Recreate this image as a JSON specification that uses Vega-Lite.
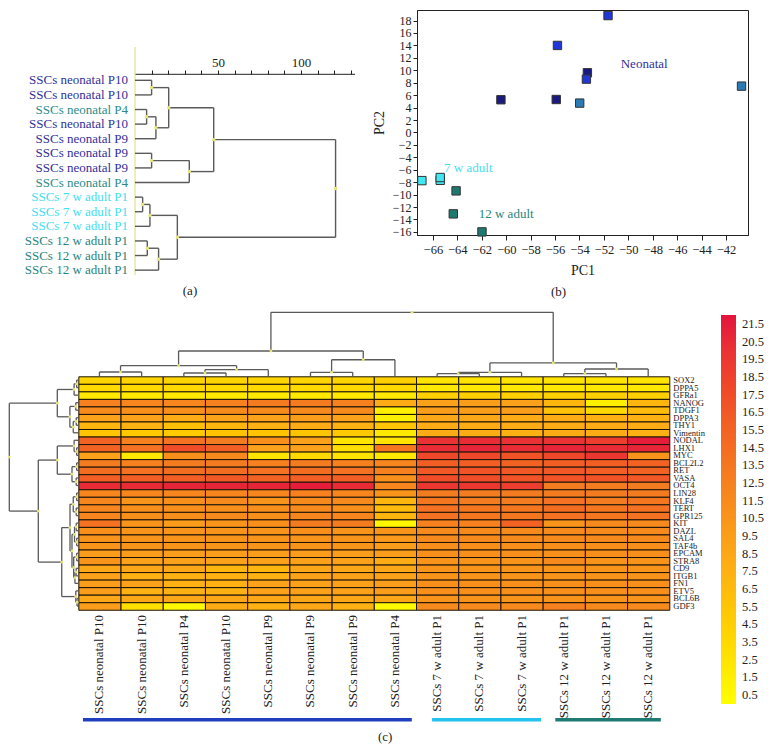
{
"$schema": "https://vega.github.io/schema/vega-lite/v6.json",
"padding": {"left": 5, "top": 8, "right": 2, "bottom": 2},
"bounds": "full",
"spacing": 9,
"config": {
  "font": "Liberation Serif",
  "view": {"stroke": null},
  "title": {"font": "Liberation Serif", "fontWeight": "normal", "fontSize": 13, "color": "#222"},
  "axis": {"labelFont": "Liberation Serif", "titleFont": "Liberation Serif", "titleFontWeight": "normal", "labelColor": "#222", "titleColor": "#222", "domainColor": "#222", "tickColor": "#222", "grid": false, "labelOverlap": false, "labelBound": false},
  "legend": {"labelFont": "Liberation Serif"}
},
"datasets": {
  "aleaves": [
    {"i": 1, "name": "SSCs neonatal P10", "grp": "neo"},
    {"i": 2, "name": "SSCs neonatal P10", "grp": "neo"},
    {"i": 3, "name": "SSCs neonatal P4", "grp": "P4"},
    {"i": 4, "name": "SSCs neonatal P10", "grp": "neo"},
    {"i": 5, "name": "SSCs neonatal P9", "grp": "neo"},
    {"i": 6, "name": "SSCs neonatal P9", "grp": "neo"},
    {"i": 7, "name": "SSCs neonatal P9", "grp": "neo"},
    {"i": 8, "name": "SSCs neonatal P4", "grp": "P4"},
    {"i": 9, "name": "SSCs 7 w adult P1", "grp": "7w"},
    {"i": 10, "name": "SSCs 7 w adult P1", "grp": "7w"},
    {"i": 11, "name": "SSCs 7 w adult P1", "grp": "7w"},
    {"i": 12, "name": "SSCs 12 w adult P1", "grp": "12w"},
    {"i": 13, "name": "SSCs 12 w adult P1", "grp": "12w"},
    {"i": 14, "name": "SSCs 12 w adult P1", "grp": "12w"}
  ],
  "adend": [
    {"h": 10, "a": 1, "b": 2, "ha": 0, "hb": 0, "m": 1.5},
    {"h": 7, "a": 3, "b": 4, "ha": 0, "hb": 0, "m": 3.5},
    {"h": 12.6, "a": 3.5, "b": 5, "ha": 7, "hb": 0, "m": 4.25},
    {"h": 20.3, "a": 1.5, "b": 4.25, "ha": 10, "hb": 12.6, "m": 2.875},
    {"h": 10, "a": 6, "b": 7, "ha": 0, "hb": 0, "m": 6.5},
    {"h": 32.7, "a": 6.5, "b": 8, "ha": 10, "hb": 0, "m": 7.25},
    {"h": 47.4, "a": 2.875, "b": 7.25, "ha": 20.3, "hb": 32.7, "m": 5.0625},
    {"h": 4.6, "a": 9, "b": 10, "ha": 0, "hb": 0, "m": 9.5},
    {"h": 9, "a": 9.5, "b": 11, "ha": 4.6, "hb": 0, "m": 10.25},
    {"h": 7.4, "a": 12, "b": 13, "ha": 0, "hb": 0, "m": 12.5},
    {"h": 14.2, "a": 12.5, "b": 14, "ha": 7.4, "hb": 0, "m": 13.25},
    {"h": 25.5, "a": 10.25, "b": 13.25, "ha": 9, "hb": 14.2, "m": 11.75},
    {"h": 120.8, "a": 5.0625, "b": 11.75, "ha": 47.4, "hb": 25.5, "m": 8.406}
  ],
  "pca": [
    {"pc1": -51.66, "pc2": 18.8, "grp": "P9"},
    {"pc1": -55.8, "pc2": 14.0, "grp": "P9"},
    {"pc1": -53.35, "pc2": 9.6, "grp": "P10"},
    {"pc1": -53.43, "pc2": 8.58, "grp": "P9"},
    {"pc1": -40.73, "pc2": 7.45, "grp": "P4"},
    {"pc1": -60.43, "pc2": 5.26, "grp": "P10"},
    {"pc1": -55.9, "pc2": 5.3, "grp": "P10"},
    {"pc1": -53.98, "pc2": 4.72, "grp": "P4"},
    {"pc1": -66.9, "pc2": -7.75, "grp": "7w"},
    {"pc1": -65.4, "pc2": -7.7, "grp": "7w"},
    {"pc1": -65.4, "pc2": -7.25, "grp": "7w"},
    {"pc1": -64.1, "pc2": -9.4, "grp": "12w"},
    {"pc1": -64.33, "pc2": -13.1, "grp": "12w"},
    {"pc1": -61.98, "pc2": -16.0, "grp": "12w"}
  ],
  "pcalab": [
    {"pc1": -48.7, "pc2": 11.0, "t": "Neonatal", "grp": "Neonatal"},
    {"pc1": -63.1, "pc2": -5.66, "t": "7 w adult", "grp": "7w"},
    {"pc1": -60.0, "pc2": -13.05, "t": "12 w adult", "grp": "12w"}
  ],
  "genes": [
    {"r": 0, "g": "SOX2"}, {"r": 1, "g": "DPPA5"}, {"r": 2, "g": "GFRa1"}, {"r": 3, "g": "NANOG"},
    {"r": 4, "g": "TDGF1"}, {"r": 5, "g": "DPPA3"}, {"r": 6, "g": "THY1"}, {"r": 7, "g": "Vimentin"},
    {"r": 8, "g": "NODAL"}, {"r": 9, "g": "LHX1"}, {"r": 10, "g": "MYC"}, {"r": 11, "g": "BCL2L2"},
    {"r": 12, "g": "RET"}, {"r": 13, "g": "VASA"}, {"r": 14, "g": "OCT4"}, {"r": 15, "g": "LIN28"},
    {"r": 16, "g": "KLF4"}, {"r": 17, "g": "TERT"}, {"r": 18, "g": "GPR125"}, {"r": 19, "g": "KIT"},
    {"r": 20, "g": "DAZL"}, {"r": 21, "g": "SAL4"}, {"r": 22, "g": "TAF4b"}, {"r": 23, "g": "EPCAM"},
    {"r": 24, "g": "STRA8"}, {"r": 25, "g": "CD9"}, {"r": 26, "g": "ITGB1"}, {"r": 27, "g": "FN1"},
    {"r": 28, "g": "ETV5"}, {"r": 29, "g": "BCL6B"}, {"r": 30, "g": "GDF3"}
  ],
  "samples": [
    {"c": 0, "s": "SSCs neonatal P10"}, {"c": 1, "s": "SSCs neonatal P10"}, {"c": 2, "s": "SSCs neonatal P4"},
    {"c": 3, "s": "SSCs neonatal P10"}, {"c": 4, "s": "SSCs neonatal P9"}, {"c": 5, "s": "SSCs neonatal P9"},
    {"c": 6, "s": "SSCs neonatal P9"}, {"c": 7, "s": "SSCs neonatal P4"}, {"c": 8, "s": "SSCs 7 w adult P1"},
    {"c": 9, "s": "SSCs 7 w adult P1"}, {"c": 10, "s": "SSCs 7 w adult P1"}, {"c": 11, "s": "SSCs 12 w adult P1"},
    {"c": 12, "s": "SSCs 12 w adult P1"}, {"c": 13, "s": "SSCs 12 w adult P1"}
  ],
  "groups": [
    {"g": "neo", "x0": 0.11, "x1": 7.9},
    {"g": "7w", "x0": 8.38, "x1": 10.96},
    {"g": "12w", "x0": 11.3, "x1": 13.8}
  ],
  "rdend": [
    {"h": -0.04, "a": 0.5, "b": 1.5, "ha": 0, "hb": 0, "m": 1.0},
    {"h": -0.10, "a": 1.0, "b": 2.5, "ha": -0.04, "hb": 0, "m": 1.75},
    {"h": -0.06, "a": 3.5, "b": 4.5, "ha": 0, "hb": 0, "m": 4.0},
    {"h": -0.05, "a": 5.5, "b": 6.5, "ha": 0, "hb": 0, "m": 6.0},
    {"h": -0.12, "a": 6.0, "b": 7.5, "ha": -0.05, "hb": 0, "m": 6.75},
    {"h": -0.20, "a": 4.0, "b": 6.75, "ha": -0.06, "hb": -0.12, "m": 5.375},
    {"h": -0.498, "a": 1.75, "b": 5.375, "ha": -0.10, "hb": -0.20, "m": 3.5625},
    {"h": -0.04, "a": 9.5, "b": 10.5, "ha": 0, "hb": 0, "m": 10.0},
    {"h": -0.10, "a": 8.5, "b": 10.0, "ha": 0, "hb": -0.04, "m": 9.25},
    {"h": -0.04, "a": 11.5, "b": 12.5, "ha": 0, "hb": 0, "m": 12.0},
    {"h": -0.05, "a": 13.5, "b": 14.5, "ha": 0, "hb": 0, "m": 14.0},
    {"h": -0.15, "a": 12.0, "b": 14.0, "ha": -0.04, "hb": -0.05, "m": 13.0},
    {"h": -0.498, "a": 9.25, "b": 13.0, "ha": -0.10, "hb": -0.15, "m": 11.125},
    {"h": -0.04, "a": 15.5, "b": 16.5, "ha": 0, "hb": 0, "m": 16.0},
    {"h": -0.05, "a": 17.5, "b": 18.5, "ha": 0, "hb": 0, "m": 18.0},
    {"h": -0.12, "a": 16.0, "b": 18.0, "ha": -0.04, "hb": -0.05, "m": 17.0},
    {"h": -0.05, "a": 19.5, "b": 20.5, "ha": 0, "hb": 0, "m": 20.0},
    {"h": -0.04, "a": 21.5, "b": 22.5, "ha": 0, "hb": 0, "m": 22.0},
    {"h": -0.09, "a": 20.0, "b": 22.0, "ha": -0.05, "hb": -0.04, "m": 21.0},
    {"h": -0.04, "a": 23.5, "b": 24.5, "ha": 0, "hb": 0, "m": 24.0},
    {"h": -0.05, "a": 25.5, "b": 26.5, "ha": 0, "hb": 0, "m": 26.0},
    {"h": -0.08, "a": 26.0, "b": 27.5, "ha": -0.05, "hb": 0, "m": 26.75},
    {"h": -0.11, "a": 24.0, "b": 26.75, "ha": -0.04, "hb": -0.08, "m": 25.375},
    {"h": -0.15, "a": 21.0, "b": 25.375, "ha": -0.09, "hb": -0.11, "m": 23.19},
    {"h": -0.197, "a": 17.0, "b": 23.19, "ha": -0.12, "hb": -0.15, "m": 20.094},
    {"h": -0.03, "a": 29.5, "b": 30.5, "ha": 0, "hb": 0, "m": 30.0},
    {"h": -0.06, "a": 28.5, "b": 30.0, "ha": 0, "hb": -0.03, "m": 29.25},
    {"h": -0.393, "a": 20.094, "b": 29.25, "ha": -0.197, "hb": -0.06, "m": 24.672},
    {"h": -0.948, "a": 11.125, "b": 24.672, "ha": -0.498, "hb": -0.393, "m": 17.898},
    {"h": -1.635, "a": 3.5625, "b": 17.898, "ha": -0.498, "hb": -0.948, "m": 10.73}
  ],
  "cdend": [
    {"h": -0.57, "a": 0.5, "b": 1.5, "ha": 0, "hb": 0, "m": 1.0},
    {"h": -0.44, "a": 2.5, "b": 3.5, "ha": 0, "hb": 0, "m": 3.0},
    {"h": -0.88, "a": 3.0, "b": 4.5, "ha": -0.44, "hb": 0, "m": 3.75},
    {"h": -1.41, "a": 1.0, "b": 3.75, "ha": -0.57, "hb": -0.88, "m": 2.375},
    {"h": -0.53, "a": 5.5, "b": 6.5, "ha": 0, "hb": 0, "m": 6.0},
    {"h": -2.20, "a": 6.0, "b": 7.5, "ha": -0.53, "hb": 0, "m": 6.75},
    {"h": -3.36, "a": 2.375, "b": 6.75, "ha": -1.41, "hb": -2.20, "m": 4.5625},
    {"h": -0.35, "a": 8.5, "b": 9.5, "ha": 0, "hb": 0, "m": 9.0},
    {"h": -0.53, "a": 9.0, "b": 10.5, "ha": -0.35, "hb": 0, "m": 9.75},
    {"h": -0.35, "a": 11.5, "b": 12.5, "ha": 0, "hb": 0, "m": 12.0},
    {"h": -0.97, "a": 12.0, "b": 13.5, "ha": -0.35, "hb": 0, "m": 12.75},
    {"h": -1.77, "a": 9.75, "b": 12.75, "ha": -0.53, "hb": -0.97, "m": 11.25},
    {"h": -8.5, "a": 4.5625, "b": 11.25, "ha": -3.36, "hb": -1.77, "m": 7.906}
  ],
  "heat": [
{"r":0,"c":0,"v":4},{"r":0,"c":1,"v":4},{"r":0,"c":2,"v":4},{"r":0,"c":3,"v":4},{"r":0,"c":4,"v":4},{"r":0,"c":5,"v":4},{"r":0,"c":6,"v":4},{"r":0,"c":7,"v":4.5},{"r":0,"c":8,"v":2.5},{"r":0,"c":9,"v":2.5},{"r":0,"c":10,"v":2.5},{"r":0,"c":11,"v":2.5},{"r":0,"c":12,"v":2.5},{"r":0,"c":13,"v":2.5},
{"r":1,"c":0,"v":3.5},{"r":1,"c":1,"v":3.5},{"r":1,"c":2,"v":3.5},{"r":1,"c":3,"v":3.5},{"r":1,"c":4,"v":3.5},{"r":1,"c":5,"v":3.5},{"r":1,"c":6,"v":3.5},{"r":1,"c":7,"v":3.5},{"r":1,"c":8,"v":2},{"r":1,"c":9,"v":2},{"r":1,"c":10,"v":2},{"r":1,"c":11,"v":2},{"r":1,"c":12,"v":2},{"r":1,"c":13,"v":2},
{"r":2,"c":0,"v":2},{"r":2,"c":1,"v":2},{"r":2,"c":2,"v":2},{"r":2,"c":3,"v":2},{"r":2,"c":4,"v":2},{"r":2,"c":5,"v":2},{"r":2,"c":6,"v":2},{"r":2,"c":7,"v":2},{"r":2,"c":8,"v":4.5},{"r":2,"c":9,"v":4.5},{"r":2,"c":10,"v":4.5},{"r":2,"c":11,"v":4.5},{"r":2,"c":12,"v":4.5},{"r":2,"c":13,"v":4.5},
{"r":3,"c":0,"v":12.5},{"r":3,"c":1,"v":12},{"r":3,"c":2,"v":12},{"r":3,"c":3,"v":12.5},{"r":3,"c":4,"v":13},{"r":3,"c":5,"v":13},{"r":3,"c":6,"v":12.5},{"r":3,"c":7,"v":8},{"r":3,"c":8,"v":9},{"r":3,"c":9,"v":9.5},{"r":3,"c":10,"v":9},{"r":3,"c":11,"v":7},{"r":3,"c":12,"v":1.5},{"r":3,"c":13,"v":7},
{"r":4,"c":0,"v":11.5},{"r":4,"c":1,"v":11},{"r":4,"c":2,"v":11},{"r":4,"c":3,"v":11.5},{"r":4,"c":4,"v":11.5},{"r":4,"c":5,"v":11.5},{"r":4,"c":6,"v":11.5},{"r":4,"c":7,"v":1.5},{"r":4,"c":8,"v":9.5},{"r":4,"c":9,"v":9.5},{"r":4,"c":10,"v":9.5},{"r":4,"c":11,"v":6},{"r":4,"c":12,"v":3.5},{"r":4,"c":13,"v":6.5},
{"r":5,"c":0,"v":9},{"r":5,"c":1,"v":9},{"r":5,"c":2,"v":8},{"r":5,"c":3,"v":9},{"r":5,"c":4,"v":9},{"r":5,"c":5,"v":9.5},{"r":5,"c":6,"v":9},{"r":5,"c":7,"v":1.5},{"r":5,"c":8,"v":8.5},{"r":5,"c":9,"v":8.5},{"r":5,"c":10,"v":8},{"r":5,"c":11,"v":8},{"r":5,"c":12,"v":7.5},{"r":5,"c":13,"v":7.5},
{"r":6,"c":0,"v":7},{"r":6,"c":1,"v":7.5},{"r":6,"c":2,"v":6},{"r":6,"c":3,"v":7},{"r":6,"c":4,"v":7.5},{"r":6,"c":5,"v":8},{"r":6,"c":6,"v":7.5},{"r":6,"c":7,"v":5.5},{"r":6,"c":8,"v":8},{"r":6,"c":9,"v":8},{"r":6,"c":10,"v":8},{"r":6,"c":11,"v":8},{"r":6,"c":12,"v":8},{"r":6,"c":13,"v":8},
{"r":7,"c":0,"v":5.5},{"r":7,"c":1,"v":5},{"r":7,"c":2,"v":5},{"r":7,"c":3,"v":5.5},{"r":7,"c":4,"v":5.5},{"r":7,"c":5,"v":5.5},{"r":7,"c":6,"v":5},{"r":7,"c":7,"v":2},{"r":7,"c":8,"v":8},{"r":7,"c":9,"v":8},{"r":7,"c":10,"v":7.5},{"r":7,"c":11,"v":8},{"r":7,"c":12,"v":8},{"r":7,"c":13,"v":7.5},
{"r":8,"c":0,"v":15.5},{"r":8,"c":1,"v":12.5},{"r":8,"c":2,"v":14},{"r":8,"c":3,"v":13},{"r":8,"c":4,"v":11},{"r":8,"c":5,"v":9},{"r":8,"c":6,"v":2.5},{"r":8,"c":7,"v":2.5},{"r":8,"c":8,"v":20},{"r":8,"c":9,"v":20.5},{"r":8,"c":10,"v":20},{"r":8,"c":11,"v":20},{"r":8,"c":12,"v":19},{"r":8,"c":13,"v":21.5},
{"r":9,"c":0,"v":15.5},{"r":9,"c":1,"v":14},{"r":9,"c":2,"v":17.5},{"r":9,"c":3,"v":16},{"r":9,"c":4,"v":9},{"r":9,"c":5,"v":9},{"r":9,"c":6,"v":3},{"r":9,"c":7,"v":13.5},{"r":9,"c":8,"v":20.5},{"r":9,"c":9,"v":21},{"r":9,"c":10,"v":20.5},{"r":9,"c":11,"v":21},{"r":9,"c":12,"v":20.5},{"r":9,"c":13,"v":21},
{"r":10,"c":0,"v":9},{"r":10,"c":1,"v":2},{"r":10,"c":2,"v":11},{"r":10,"c":3,"v":11.5},{"r":10,"c":4,"v":2.5},{"r":10,"c":5,"v":3.5},{"r":10,"c":6,"v":2.5},{"r":10,"c":7,"v":2},{"r":10,"c":8,"v":18},{"r":10,"c":9,"v":18},{"r":10,"c":10,"v":17},{"r":10,"c":11,"v":18},{"r":10,"c":12,"v":19.5},{"r":10,"c":13,"v":10.5},
{"r":11,"c":0,"v":13},{"r":11,"c":1,"v":12.5},{"r":11,"c":2,"v":13},{"r":11,"c":3,"v":13},{"r":11,"c":4,"v":12.5},{"r":11,"c":5,"v":13},{"r":11,"c":6,"v":12.5},{"r":11,"c":7,"v":12},{"r":11,"c":8,"v":16},{"r":11,"c":9,"v":16},{"r":11,"c":10,"v":15.5},{"r":11,"c":11,"v":16},{"r":11,"c":12,"v":16},{"r":11,"c":13,"v":15.5},
{"r":12,"c":0,"v":14.5},{"r":12,"c":1,"v":14},{"r":12,"c":2,"v":14.5},{"r":12,"c":3,"v":14.5},{"r":12,"c":4,"v":14},{"r":12,"c":5,"v":14.5},{"r":12,"c":6,"v":14},{"r":12,"c":7,"v":12.5},{"r":12,"c":8,"v":16.5},{"r":12,"c":9,"v":17},{"r":12,"c":10,"v":16.5},{"r":12,"c":11,"v":16.5},{"r":12,"c":12,"v":16},{"r":12,"c":13,"v":15.5},
{"r":13,"c":0,"v":16},{"r":13,"c":1,"v":16},{"r":13,"c":2,"v":16},{"r":13,"c":3,"v":16.5},{"r":13,"c":4,"v":15.5},{"r":13,"c":5,"v":16},{"r":13,"c":6,"v":16},{"r":13,"c":7,"v":11},{"r":13,"c":8,"v":17.5},{"r":13,"c":9,"v":17.5},{"r":13,"c":10,"v":17},{"r":13,"c":11,"v":17},{"r":13,"c":12,"v":17},{"r":13,"c":13,"v":16.5},
{"r":14,"c":0,"v":20.5},{"r":14,"c":1,"v":20.5},{"r":14,"c":2,"v":21},{"r":14,"c":3,"v":21},{"r":14,"c":4,"v":21},{"r":14,"c":5,"v":21.5},{"r":14,"c":6,"v":20.5},{"r":14,"c":7,"v":12},{"r":14,"c":8,"v":19.5},{"r":14,"c":9,"v":19.5},{"r":14,"c":10,"v":19},{"r":14,"c":11,"v":13},{"r":14,"c":12,"v":13},{"r":14,"c":13,"v":13},
{"r":15,"c":0,"v":12},{"r":15,"c":1,"v":12},{"r":15,"c":2,"v":12},{"r":15,"c":3,"v":12},{"r":15,"c":4,"v":12},{"r":15,"c":5,"v":12.5},{"r":15,"c":6,"v":12},{"r":15,"c":7,"v":10.5},{"r":15,"c":8,"v":13},{"r":15,"c":9,"v":13},{"r":15,"c":10,"v":13},{"r":15,"c":11,"v":13},{"r":15,"c":12,"v":13},{"r":15,"c":13,"v":13},
{"r":16,"c":0,"v":12},{"r":16,"c":1,"v":10.5},{"r":16,"c":2,"v":11},{"r":16,"c":3,"v":11.5},{"r":16,"c":4,"v":10.5},{"r":16,"c":5,"v":11.5},{"r":16,"c":6,"v":11.5},{"r":16,"c":7,"v":7},{"r":16,"c":8,"v":13.5},{"r":16,"c":9,"v":13},{"r":16,"c":10,"v":13},{"r":16,"c":11,"v":14},{"r":16,"c":12,"v":13},{"r":16,"c":13,"v":13.5},
{"r":17,"c":0,"v":12},{"r":17,"c":1,"v":11},{"r":17,"c":2,"v":11},{"r":17,"c":3,"v":11},{"r":17,"c":4,"v":11},{"r":17,"c":5,"v":11.5},{"r":17,"c":6,"v":11},{"r":17,"c":7,"v":6.5},{"r":17,"c":8,"v":14},{"r":17,"c":9,"v":13.5},{"r":17,"c":10,"v":13.5},{"r":17,"c":11,"v":14.5},{"r":17,"c":12,"v":13.5},{"r":17,"c":13,"v":14},
{"r":18,"c":0,"v":12},{"r":18,"c":1,"v":11},{"r":18,"c":2,"v":11},{"r":18,"c":3,"v":11.5},{"r":18,"c":4,"v":11},{"r":18,"c":5,"v":12},{"r":18,"c":6,"v":12},{"r":18,"c":7,"v":7},{"r":18,"c":8,"v":14},{"r":18,"c":9,"v":13.5},{"r":18,"c":10,"v":13.5},{"r":18,"c":11,"v":14},{"r":18,"c":12,"v":13.5},{"r":18,"c":13,"v":14},
{"r":19,"c":0,"v":14},{"r":19,"c":1,"v":10.5},{"r":19,"c":2,"v":9.5},{"r":19,"c":3,"v":10.5},{"r":19,"c":4,"v":11},{"r":19,"c":5,"v":13},{"r":19,"c":6,"v":13},{"r":19,"c":7,"v":0.8},{"r":19,"c":8,"v":12.5},{"r":19,"c":9,"v":12.5},{"r":19,"c":10,"v":15.5},{"r":19,"c":11,"v":10.5},{"r":19,"c":12,"v":11.5},{"r":19,"c":13,"v":11.5},
{"r":20,"c":0,"v":11},{"r":20,"c":1,"v":10.5},{"r":20,"c":2,"v":10.5},{"r":20,"c":3,"v":10.5},{"r":20,"c":4,"v":10.5},{"r":20,"c":5,"v":11},{"r":20,"c":6,"v":10.5},{"r":20,"c":7,"v":10.5},{"r":20,"c":8,"v":11.5},{"r":20,"c":9,"v":11.5},{"r":20,"c":10,"v":11.5},{"r":20,"c":11,"v":11.5},{"r":20,"c":12,"v":11.5},{"r":20,"c":13,"v":11.5},
{"r":21,"c":0,"v":10.5},{"r":21,"c":1,"v":10.5},{"r":21,"c":2,"v":10.5},{"r":21,"c":3,"v":10.5},{"r":21,"c":4,"v":10.5},{"r":21,"c":5,"v":10.5},{"r":21,"c":6,"v":10.5},{"r":21,"c":7,"v":10},{"r":21,"c":8,"v":11.5},{"r":21,"c":9,"v":11.5},{"r":21,"c":10,"v":11.5},{"r":21,"c":11,"v":11.5},{"r":21,"c":12,"v":11.5},{"r":21,"c":13,"v":11.5},
{"r":22,"c":0,"v":10.5},{"r":22,"c":1,"v":10.5},{"r":22,"c":2,"v":10.5},{"r":22,"c":3,"v":10.5},{"r":22,"c":4,"v":10.5},{"r":22,"c":5,"v":10.5},{"r":22,"c":6,"v":10.5},{"r":22,"c":7,"v":9.5},{"r":22,"c":8,"v":11},{"r":22,"c":9,"v":11},{"r":22,"c":10,"v":11},{"r":22,"c":11,"v":11},{"r":22,"c":12,"v":11},{"r":22,"c":13,"v":11},
{"r":23,"c":0,"v":9.5},{"r":23,"c":1,"v":9.5},{"r":23,"c":2,"v":9.5},{"r":23,"c":3,"v":9.5},{"r":23,"c":4,"v":9.5},{"r":23,"c":5,"v":9.5},{"r":23,"c":6,"v":9.5},{"r":23,"c":7,"v":9.5},{"r":23,"c":8,"v":11},{"r":23,"c":9,"v":11},{"r":23,"c":10,"v":11},{"r":23,"c":11,"v":11},{"r":23,"c":12,"v":11},{"r":23,"c":13,"v":11},
{"r":24,"c":0,"v":10.5},{"r":24,"c":1,"v":9},{"r":24,"c":2,"v":9},{"r":24,"c":3,"v":9},{"r":24,"c":4,"v":9},{"r":24,"c":5,"v":9},{"r":24,"c":6,"v":9},{"r":24,"c":7,"v":8},{"r":24,"c":8,"v":10.5},{"r":24,"c":9,"v":10.5},{"r":24,"c":10,"v":10.5},{"r":24,"c":11,"v":11.5},{"r":24,"c":12,"v":10.5},{"r":24,"c":13,"v":10.5},
{"r":25,"c":0,"v":8.5},{"r":25,"c":1,"v":8.5},{"r":25,"c":2,"v":8.5},{"r":25,"c":3,"v":7},{"r":25,"c":4,"v":7},{"r":25,"c":5,"v":8.5},{"r":25,"c":6,"v":8.5},{"r":25,"c":7,"v":8.5},{"r":25,"c":8,"v":10.5},{"r":25,"c":9,"v":10.5},{"r":25,"c":10,"v":10.5},{"r":25,"c":11,"v":10.5},{"r":25,"c":12,"v":10.5},{"r":25,"c":13,"v":10.5},
{"r":26,"c":0,"v":9},{"r":26,"c":1,"v":7.5},{"r":26,"c":2,"v":7.5},{"r":26,"c":3,"v":7.5},{"r":26,"c":4,"v":7.5},{"r":26,"c":5,"v":9},{"r":26,"c":6,"v":9},{"r":26,"c":7,"v":9},{"r":26,"c":8,"v":10.5},{"r":26,"c":9,"v":10.5},{"r":26,"c":10,"v":10.5},{"r":26,"c":11,"v":10.5},{"r":26,"c":12,"v":10.5},{"r":26,"c":13,"v":10.5},
{"r":27,"c":0,"v":9.5},{"r":27,"c":1,"v":9},{"r":27,"c":2,"v":7.5},{"r":27,"c":3,"v":7.5},{"r":27,"c":4,"v":9},{"r":27,"c":5,"v":9},{"r":27,"c":6,"v":9},{"r":27,"c":7,"v":9.5},{"r":27,"c":8,"v":11},{"r":27,"c":9,"v":11},{"r":27,"c":10,"v":11},{"r":27,"c":11,"v":11},{"r":27,"c":12,"v":11},{"r":27,"c":13,"v":11},
{"r":28,"c":0,"v":9.5},{"r":28,"c":1,"v":7.5},{"r":28,"c":2,"v":7.5},{"r":28,"c":3,"v":7.5},{"r":28,"c":4,"v":9},{"r":28,"c":5,"v":9},{"r":28,"c":6,"v":9},{"r":28,"c":7,"v":9.5},{"r":28,"c":8,"v":11},{"r":28,"c":9,"v":11},{"r":28,"c":10,"v":11},{"r":28,"c":11,"v":11},{"r":28,"c":12,"v":11},{"r":28,"c":13,"v":11},
{"r":29,"c":0,"v":8.5},{"r":29,"c":1,"v":8.5},{"r":29,"c":2,"v":8.5},{"r":29,"c":3,"v":8.5},{"r":29,"c":4,"v":8.5},{"r":29,"c":5,"v":8.5},{"r":29,"c":6,"v":8.5},{"r":29,"c":7,"v":8.5},{"r":29,"c":8,"v":10.5},{"r":29,"c":9,"v":10.5},{"r":29,"c":10,"v":10.5},{"r":29,"c":11,"v":10.5},{"r":29,"c":12,"v":10.5},{"r":29,"c":13,"v":10.5},
{"r":30,"c":0,"v":9.5},{"r":30,"c":1,"v":3},{"r":30,"c":2,"v":0.5},{"r":30,"c":3,"v":8},{"r":30,"c":4,"v":7.5},{"r":30,"c":5,"v":8.5},{"r":30,"c":6,"v":7.5},{"r":30,"c":7,"v":0.5},{"r":30,"c":8,"v":11.5},{"r":30,"c":9,"v":11.5},{"r":30,"c":10,"v":11.5},{"r":30,"c":11,"v":12.5},{"r":30,"c":12,"v":11.5},{"r":30,"c":13,"v":11.5}
  ]
},
"vconcat": [
  {
    "bounds": "flush",
    "spacing": 62,
    "hconcat": [
      {
        "width": 350, "height": 267,
        "title": {"text": "(a)", "orient": "bottom", "offset": 8, "dx": 10},
        "layer": [
          {
            "data": {"values": [{}]},
            "mark": {"type": "rule", "color": "#222", "strokeWidth": 1},
            "encoding": {
              "x": {"datum": 0, "type": "quantitative",
                    "scale": {"domain": [-78.3, 132.5], "nice": false, "zero": false},
                    "axis": {"orient": "top", "offset": -64, "values": [10,20,30,40,50,60,70,80,90,100,110,120,130],
                             "tickCount": 100, "format": "d",
                             "labelExpr": "datum.value == 50 || datum.value == 100 ? datum.label : ''",
                             "labelFlush": false,
                             "domain": false, "tickSize": 4, "labelFontSize": 13, "labelPadding": 1, "title": null}},
              "x2": {"datum": 132.5},
              "y": {"datum": 0.589, "type": "quantitative",
                    "scale": {"domain": [-3.815, 14.47], "reverse": true, "nice": false, "zero": false}, "axis": null}
            }
          },
          {
            "data": {"values": [{}]},
            "mark": {"type": "rule", "color": "#e2e28c", "strokeWidth": 1.2},
            "encoding": {
              "x": {"datum": 0, "type": "quantitative"},
              "y": {"datum": -1.28, "type": "quantitative"},
              "y2": {"datum": 14.34}
            }
          },
          {
            "data": {"name": "adend"},
            "mark": {"type": "rule", "color": "#5a5a5a", "strokeWidth": 1.4},
            "encoding": {
              "x": {"field": "h", "type": "quantitative", "title": null},
              "y": {"field": "a", "type": "quantitative", "title": null},
              "y2": {"field": "b"}
            }
          },
          {
            "data": {"name": "adend"},
            "mark": {"type": "rule", "color": "#5a5a5a", "strokeWidth": 1.4},
            "encoding": {
              "x": {"field": "ha", "type": "quantitative", "title": null},
              "x2": {"field": "h"},
              "y": {"field": "a", "type": "quantitative", "title": null}
            }
          },
          {
            "data": {"name": "adend"},
            "mark": {"type": "rule", "color": "#5a5a5a", "strokeWidth": 1.4},
            "encoding": {
              "x": {"field": "hb", "type": "quantitative", "title": null},
              "x2": {"field": "h"},
              "y": {"field": "b", "type": "quantitative", "title": null}
            }
          },
          {
            "data": {"name": "adend"},
            "mark": {"type": "point", "filled": true, "size": 12, "color": "#e6e67a", "opacity": 1},
            "encoding": {
              "x": {"field": "h", "type": "quantitative", "title": null},
              "y": {"field": "m", "type": "quantitative", "title": null}
            }
          },
          {
            "data": {"name": "aleaves"},
            "mark": {"type": "text", "align": "right", "baseline": "middle", "dx": -7, "fontSize": 13},
            "encoding": {
              "x": {"datum": 0, "type": "quantitative"},
              "y": {"field": "i", "type": "quantitative", "title": null},
              "text": {"field": "name"},
              "color": {"field": "grp", "type": "nominal",
                        "scale": {"domain": ["neo", "P4", "7w", "12w"], "range": ["#30309a", "#2b8c8a", "#3fe0f0", "#27857e"]},
                        "legend": null}
            }
          }
        ]
      },
      {
        "width": 331, "height": 225,
        "view": {"stroke": "#222", "strokeWidth": 1},
        "title": {"text": "(b)", "orient": "bottom", "offset": 8, "dx": -24},
        "layer": [
          {
            "data": {"name": "pca"},
            "mark": {"type": "point", "shape": "square", "filled": true, "size": 70, "stroke": "#333", "strokeWidth": 1, "opacity": 1},
            "encoding": {
              "x": {"field": "pc1", "type": "quantitative",
                    "scale": {"domain": [-67.3, -40.2], "nice": false, "zero": false},
                    "axis": {"title": "PC1", "values": [-66,-64,-62,-60,-58,-56,-54,-52,-50,-48,-46,-44,-42],
                             "tickCount": 100, "format": "d", "labelFlush": false,
                             "labelFontSize": 12.5, "titleFontSize": 14, "tickSize": 5, "labelPadding": 3, "titlePadding": 8}},
              "y": {"field": "pc2", "type": "quantitative",
                    "scale": {"domain": [-16.5, 19.7], "nice": false, "zero": false},
                    "axis": {"title": "PC2", "values": [-16,-14,-12,-10,-8,-6,-4,-2,0,2,4,6,8,10,12,14,16,18],
                             "tickCount": 100, "format": "d", "labelFlush": false,
                             "labelFontSize": 12, "titleFontSize": 14, "tickSize": 4, "labelPadding": 2, "titlePadding": 6}},
              "fill": {"field": "grp", "type": "nominal",
                       "scale": {"domain": ["P10", "P9", "P4", "7w", "12w"], "range": ["#1b1a80", "#2137d8", "#2a7ab5", "#40e6f2", "#1e7a70"]},
                       "legend": null}
            }
          },
          {
            "data": {"name": "pcalab"},
            "mark": {"type": "text", "fontSize": 13, "align": "center", "baseline": "middle"},
            "encoding": {
              "x": {"field": "pc1", "type": "quantitative"},
              "y": {"field": "pc2", "type": "quantitative"},
              "text": {"field": "t"},
              "color": {"field": "grp", "type": "nominal",
                        "scale": {"domain": ["Neonatal", "7w", "12w"], "range": ["#2b4fc7", "#3ad8ee", "#23857c"]},
                        "legend": null}
            }
          }
        ]
      }
    ]
  },
  {
    "width": 664.3, "height": 415,
    "title": {"text": "(c)", "orient": "bottom", "offset": 8, "dx": 48},
    "layer": [
      {
        "data": {"name": "heat"},
        "mark": {"type": "rect", "stroke": "#1a1208", "strokeWidth": 1, "binSpacing": 0},
        "encoding": {
          "x": {"field": "c", "type": "quantitative", "bin": {"binned": true, "step": 1},
                "scale": {"domain": [-1.737, 14], "nice": false, "zero": false}, "axis": null},
          "y": {"field": "r", "type": "quantitative", "bin": {"binned": true, "step": 1},
                "scale": {"domain": [-9.07, 46.04], "reverse": true, "nice": false, "zero": false}, "axis": null},
          "fill": {"field": "v", "type": "quantitative",
                   "scale": {"domain": [0, 4.4, 8.8, 13.2, 17.6, 22],
                             "range": ["#ffff00", "#ffd000", "#fba41a", "#f47a20", "#f04b28", "#e4133c"]},
                   "legend": {"orient": "none", "legendX": 716, "legendY": 7, "direction": "vertical",
                              "gradientLength": 389, "gradientThickness": 15, "title": null,
                              "values": [0.5,1.5,2.5,3.5,4.5,5.5,6.5,7.5,8.5,9.5,10.5,11.5,12.5,13.5,14.5,15.5,16.5,17.5,18.5,19.5,20.5,21.5],
                              "format": ".1f", "labelFontSize": 12.5, "labelOverlap": false, "labelOffset": 6,
                              "labelColor": "#222", "gradientStrokeWidth": 0}}
        }
      },
      {
        "data": {"name": "genes"},
        "mark": {"type": "text", "align": "left", "baseline": "middle", "dx": 4, "dy": 3.77, "fontSize": 8.5, "color": "#222"},
        "encoding": {
          "x": {"datum": 14, "type": "quantitative"},
          "y": {"field": "r", "type": "quantitative"},
          "text": {"field": "g"}
        }
      },
      {
        "data": {"name": "samples"},
        "mark": {"type": "text", "angle": 270, "align": "right", "baseline": "middle", "dy": 21.1, "fontSize": 13, "color": "#222"},
        "encoding": {
          "x": {"field": "c", "type": "quantitative"},
          "y": {"datum": 31.7, "type": "quantitative"},
          "text": {"field": "s"}
        }
      },
      {
        "data": {"name": "groups"},
        "mark": {"type": "rule", "strokeWidth": 3.5},
        "encoding": {
          "x": {"field": "x0", "type": "quantitative"},
          "x2": {"field": "x1"},
          "y": {"datum": 45.6, "type": "quantitative"},
          "stroke": {"field": "g", "type": "nominal",
                     "scale": {"domain": ["neo", "7w", "12w"], "range": ["#1f3fbf", "#22c4ee", "#1e7a72"]},
                     "legend": null}
        }
      },
      {
        "data": {"name": "rdend"},
        "mark": {"type": "rule", "color": "#5a5a5a", "strokeWidth": 1.3},
        "encoding": {
          "x": {"field": "h", "type": "quantitative"},
          "y": {"field": "a", "type": "quantitative"},
          "y2": {"field": "b"}
        }
      },
      {
        "data": {"name": "rdend"},
        "mark": {"type": "rule", "color": "#5a5a5a", "strokeWidth": 1.3},
        "encoding": {
          "x": {"field": "ha", "type": "quantitative"},
          "x2": {"field": "h"},
          "y": {"field": "a", "type": "quantitative"}
        }
      },
      {
        "data": {"name": "rdend"},
        "mark": {"type": "rule", "color": "#5a5a5a", "strokeWidth": 1.3},
        "encoding": {
          "x": {"field": "hb", "type": "quantitative"},
          "x2": {"field": "h"},
          "y": {"field": "b", "type": "quantitative"}
        }
      },
      {
        "data": {"name": "rdend"},
        "mark": {"type": "point", "filled": true, "size": 8, "color": "#e6e67a", "opacity": 1},
        "encoding": {
          "x": {"field": "h", "type": "quantitative"},
          "y": {"field": "m", "type": "quantitative"}
        }
      },
      {
        "data": {"name": "cdend"},
        "mark": {"type": "rule", "color": "#5a5a5a", "strokeWidth": 1.3},
        "encoding": {
          "x": {"field": "a", "type": "quantitative"},
          "x2": {"field": "b"},
          "y": {"field": "h", "type": "quantitative"}
        }
      },
      {
        "data": {"name": "cdend"},
        "mark": {"type": "rule", "color": "#5a5a5a", "strokeWidth": 1.3},
        "encoding": {
          "x": {"field": "a", "type": "quantitative"},
          "y": {"field": "ha", "type": "quantitative"},
          "y2": {"field": "h"}
        }
      },
      {
        "data": {"name": "cdend"},
        "mark": {"type": "rule", "color": "#5a5a5a", "strokeWidth": 1.3},
        "encoding": {
          "x": {"field": "b", "type": "quantitative"},
          "y": {"field": "hb", "type": "quantitative"},
          "y2": {"field": "h"}
        }
      },
      {
        "data": {"name": "cdend"},
        "mark": {"type": "point", "filled": true, "size": 8, "color": "#e6e67a", "opacity": 1},
        "encoding": {
          "x": {"field": "m", "type": "quantitative"},
          "y": {"field": "h", "type": "quantitative"}
        }
      }
    ]
  }
]
}
